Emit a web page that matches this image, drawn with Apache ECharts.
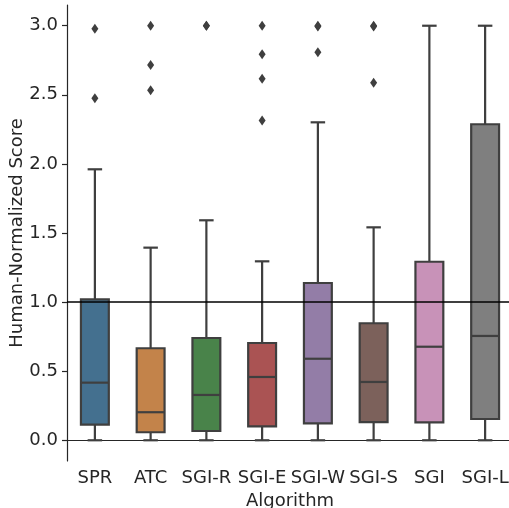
<!DOCTYPE html>
<html>
<head>
<meta charset="utf-8">
<script src="https://cdn.jsdelivr.net/npm/echarts@6/dist/echarts.min.js"></script>
<style>
  html, body { margin: 0; padding: 0; background: #fff; }
  #graphe { width: 509px; height: 508px; }
</style>
</head>
<body>
<div id="graphe"></div>
<script>
const categories = ['SPR', 'ATC', 'SGI-R', 'SGI-E', 'SGI-W', 'SGI-S', 'SGI', 'SGI-L'];
const lowWhisker = [0, 0, 0, 0, 0, 0, 0, 0];
const q1 = [0.113, 0.058, 0.067, 0.101, 0.123, 0.132, 0.130, 0.154];
const median = [0.417, 0.203, 0.328, 0.458, 0.590, 0.422, 0.677, 0.755];
const q3 = [1.02, 0.666, 0.740, 0.704, 1.138, 0.847, 1.292, 2.287];
const highWhisker = [1.961, 1.394, 1.592, 1.295, 2.301, 1.541, 3.0, 3.0];
const outliers = [
    [2.978, 2.475],
    [3.0, 2.716, 2.533],
    [3.0, 3.0],
    [3.0, 2.793, 2.617, 2.315],
    [3.0, 2.995, 2.808],
    [3.0, 2.995, 2.588],
    [],
    []
];
const yTicks = [0, 0.5, 1.0, 1.5, 2.0, 2.5, 3.0];
const referenceLine = 1.0;

const colors = ['#44708f', '#c3834a', '#49834a', '#aa5353', '#937da7', '#7c615b', '#c892b8', '#7f7f7f'];
const edge = '#3f3f3f';
const ink = '#262626';
const font = 'DejaVu Sans';

const boxData = categories.map((c, i) => [i, lowWhisker[i], q1[i], median[i], q3[i], highWhisker[i]]);
const outlierData = [];
outliers.forEach((vals, i) => vals.forEach(v => outlierData.push([i, v])));

function renderBox(params, api) {
    const i = api.value(0);
    const band = api.size([1, 0])[0];
    const half = band * 0.25;
    const cap = band * 0.13;
    const x = api.coord([i, 0])[0];
    const yMin = api.coord([i, api.value(1)])[1];
    const yQ1 = api.coord([i, api.value(2)])[1];
    const yMed = api.coord([i, api.value(3)])[1];
    const yQ3 = api.coord([i, api.value(4)])[1];
    const yMax = api.coord([i, api.value(5)])[1];
    const line = {stroke: edge, lineWidth: 2.2};
    return {
        type: 'group',
        children: [
            {type: 'line', shape: {x1: x, y1: yQ3, x2: x, y2: yMax}, style: line},
            {type: 'line', shape: {x1: x, y1: yQ1, x2: x, y2: yMin}, style: line},
            {type: 'line', shape: {x1: x - cap, y1: yMax, x2: x + cap, y2: yMax}, style: line},
            {type: 'line', shape: {x1: x - cap, y1: yMin, x2: x + cap, y2: yMin}, style: line},
            {type: 'rect', shape: {x: x - half, y: yQ3, width: half * 2, height: yQ1 - yQ3},
                style: {fill: colors[i], stroke: edge, lineWidth: 2.2}},
            {type: 'line', shape: {x1: x - half, y1: yMed, x2: x + half, y2: yMed}, style: line}
        ]
    };
}

const chart = echarts.init(document.getElementById('graphe'));
chart.setOption({
    animation: false,
    grid: {left: 67, right: -4, top: 5, bottom: 47, outerBoundsMode: 'none', containLabel: false},
    xAxis: {
        type: 'category',
        data: categories,
        name: 'Algorithm',
        nameLocation: 'middle',
        nameGap: 31,
        nameMoveOverlap: false,
        nameTextStyle: {color: ink, fontSize: 18, fontFamily: font},
        axisLine: {lineStyle: {color: ink, width: 1.2}},
        axisTick: {alignWithLabel: true, length: 5, lineStyle: {color: ink, width: 1.2}},
        axisLabel: {color: ink, fontSize: 18, fontFamily: font, margin: 8, interval: 0},
        splitLine: {show: false}
    },
    yAxis: {
        type: 'value',
        min: -0.15,
        max: 3.15,
        name: 'Human-Normalized Score',
        nameLocation: 'middle',
        nameGap: 41,
        nameMoveOverlap: false,
        nameTextStyle: {color: ink, fontSize: 18, fontFamily: font},
        axisLine: {show: true, lineStyle: {color: ink, width: 1.2}},
        axisTick: {show: true, length: 5, lineStyle: {color: ink, width: 1.2}, customValues: yTicks},
        axisLabel: {color: ink, fontSize: 18, fontFamily: font, margin: 9,
            customValues: yTicks, formatter: v => v.toFixed(1)},
        splitLine: {show: false}
    },
    series: [
        {
            type: 'custom',
            renderItem: renderBox,
            data: boxData,
            encode: {x: 0, y: [1, 2, 3, 4, 5]},
            z: 2
        },
        {
            type: 'scatter',
            data: outlierData,
            symbol: 'diamond',
            symbolSize: [7, 10],
            itemStyle: {color: edge, opacity: 1},
            z: 3,
            markLine: {
                silent: true,
                symbol: ['none', 'none'],
                label: {show: false},
                lineStyle: {color: '#000', width: 1.6, type: 'solid'},
                data: [{yAxis: referenceLine}]
            }
        }
    ]
});
</script>
</body>
</html>
